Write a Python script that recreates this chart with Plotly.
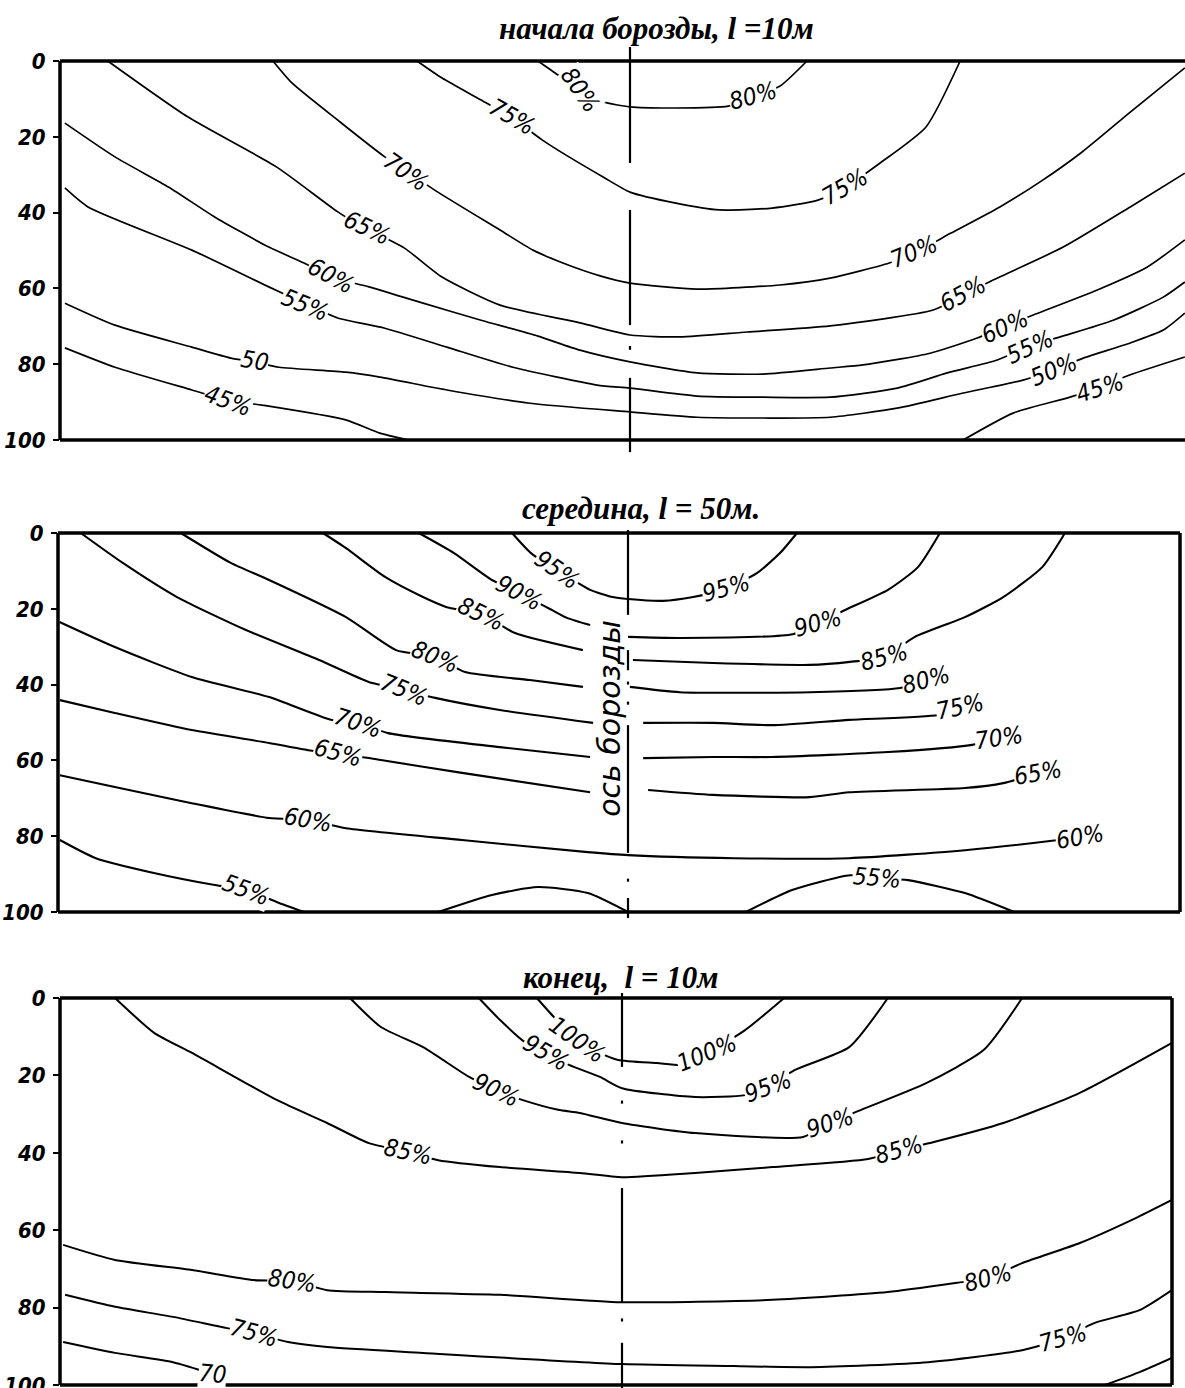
import plotly.graph_objects as go

W, H = 1185, 1388

# Depth axis (cm)
depth_ticks = [0, 20, 40, 60, 80, 100]

# ---------------------------------------------------------------
# Moisture isolines, % ; x = cm from the furrow axis, y = depth, cm
# ---------------------------------------------------------------

# --- начало борозды, l = 10 м ---
a80_x = [-24.3, -19.0, -12.9, -7.1, 0, 12.1, 25.9, 32.5, 39.6, 46.7]
a80_y = [0, 3.7, 8.2, 10.8, 12.1, 12.4, 11.9, 9.5, 6.6, 0]
a75_x = [-56.2, -49.6, -39.3, -31.1, -23.2, -16.1, -7.1, 0, 12.1, 23.5, 37.5, 49.6, 56.7, 66.0, 78.1, 87.1]
a75_y = [0, 4.5, 10.3, 15.0, 20.8, 25.3, 30.6, 34.6, 37.5, 39.3, 38.8, 36.7, 33.3, 26.9, 17.4, 0]
a70_x = [-94.2, -89.2, -76.5, -64.7, -58.6, -50.7, -34.3, -25.6, -17.7, -7.9, 0, 17.7, 39.6, 52.8,
         68.4, 75.5, 84.7, 97.6, 108.2, 119.3, 132.0, 146.4]
a70_y = [0, 5.8, 16.1, 25.3, 29.3, 34.6, 44.6, 49.9, 53.3, 56.7, 58.6, 60.2, 59.1, 57.3,
         53.3, 50.4, 45.4, 38.5, 31.9, 24.0, 13.5, 1.8]
a65_x = [-137.8, -116.6, -93.2, -77.1, -69.9, -59.6, -49.6, -34.3, -13.2, 0, 13.2, 30.9, 52.8,
         80.0, 87.9, 95.8, 114.3, 132.0, 146.4]
a65_y = [0, 14.8, 28.0, 39.8, 44.1, 49.3, 57.0, 64.4, 69.1, 72.3, 72.8, 71.5, 69.9,
         65.7, 61.8, 57.8, 49.1, 38.5, 29.6]
a60_x = [-149.1, -135.9, -121.7, -109.5, -95.3, -86.0, -78.9, -68.9, -54.6, -39.3, -24.3, -13.2, 0,
         17.7, 35.1, 52.8, 61.5, 79.2, 91.6, 98.4, 106.4, 123.3, 136.4, 146.4]
a60_y = [16.4, 25.3, 33.3, 41.2, 49.1, 53.3, 57.0, 59.6, 63.9, 68.4, 72.6, 76.3, 79.4,
         82.3, 82.6, 81.0, 80.2, 77.1, 73.1, 70.2, 67.0, 60.4, 54.4, 47.2]
a55_x = [-149.1, -143.0, -115.6, -95.3, -86.0, -77.1, -64.7, -48.3, -30.9, -8.7, 0, 17.7, 35.1,
         52.8, 70.5, 83.7, 96.9, 104.8, 113.5, 127.5, 140.7, 146.4]
a55_y = [33.5, 38.5, 49.9, 59.6, 63.9, 67.8, 70.5, 75.5, 80.8, 85.5, 86.3, 88.4, 88.7,
         88.7, 86.3, 82.3, 78.9, 75.5, 72.8, 68.4, 62.3, 58.3]
a50_x = [-149.1, -135.9, -115.6, -105.3, -99.2, -92.6, -75.0, -66.0, -48.3, -26.4, 0, 17.7, 35.1,
         52.8, 70.5, 87.9, 103.7, 111.6, 119.6, 132.0, 140.7, 146.4]
a50_y = [63.9, 69.7, 75.5, 78.4, 79.4, 80.8, 82.1, 83.4, 86.8, 90.3, 92.6, 94.0, 94.2,
         94.0, 91.6, 87.6, 84.2, 81.6, 78.4, 74.4, 71.0, 66.5]
a45_x = [-149.1, -135.9, -115.6, -106.3, -97.1, -75.0, -66.0, -58.6, None,
         87.9, 101.1, 116.1, 123.3, 132.0, 146.4]
a45_y = [75.7, 80.8, 86.8, 89.5, 90.8, 94.7, 98.2, 100, None,
         100, 92.9, 88.7, 86.3, 82.8, 78.1]

a_lab_text = ["80%", "80%", "75%", "75%", "70%", "70%", "65%", "65%",
              "60%", "60%", "55%", "55%", "50", "50%", "45%", "45%"]
a_lab_x = [-13.2, 32.5, -31.1, 56.7, -59.1, 74.9, -69.4, 87.9,
           -78.9, 98.9, -85.8, 105.6, -99.0, 111.9, -106.0, 124.0]
a_lab_y = [7.7, 9.2, 14.8, 33.2, 29.3, 50.4, 44.1, 61.5,
           56.7, 70.2, 64.4, 75.5, 79.2, 81.6, 89.7, 86.3]
a_lab_rot = [55, -15, 30, -30, 35, -22, 25, -28, 28, -24, 22, -24, 10, -22, 20, -17]

# furrow axis (dash-dot), depth intervals
a_axis_y = [-3.7, 26.9, None, 39.3, 69.7, None, 75.2, 76.2, None, 83.6, 103.2]

# --- середина, l = 50 м ---
b95_x = [-30.6, -25.6, -18.7, -10.0, -4.0, 0, 9.2, 17.2, 25.1, 34.0, 40.1, 44.6]
b95_y = [0, 5.3, 9.8, 15.0, 16.9, 17.4, 17.9, 16.9, 15.0, 10.6, 5.3, 0]
b90_x = [-55.2, -45.9, -35.9, -28.8, -20.1, -16.1, -10.0, None,
         0, 13.7, 43.5, 50.1, 57.3, 68.6, 76.5, 82.3]
b90_y = [0, 5.3, 12.4, 15.8, 20.3, 22.4, 24.3, None,
         27.4, 27.7, 26.7, 23.8, 20.3, 15.0, 9.0, 0]
b85_x = [-80.5, -74.4, -64.1, -54.1, -48.0, -38.8, -29.8, -11.9, None,
         1.3, 22.4, 48.0, 58.6, 67.6, 75.7, 88.9, 99.0, 109.3, 115.3]
b85_y = [0, 4.0, 11.6, 16.9, 19.5, 21.4, 26.4, 30.9, None,
         33.5, 34.3, 34.8, 34.0, 32.7, 27.4, 22.2, 16.9, 9.0, 0]
b80_x = [-118.0, -104.8, -94.7, -74.4, -61.2, -50.9, -43.0, -25.9, -11.9, None,
         0.5, 13.7, 48.0, 71.8, 78.6]
b80_y = [0, 7.9, 12.4, 22.2, 30.9, 32.7, 36.7, 38.8, 40.6, None,
         40.6, 42.0, 42.0, 40.9, 38.8]
b75_x = [-144.4, -133.3, -119.0, -100.8, -81.5, -68.4, -59.1, -50.9, -33.8, -9.2, None,
         4.0, 22.4, 38.0, 58.3, 81.8, 87.6]
b75_y = [0, 7.9, 16.9, 25.6, 33.5, 39.3, 41.4, 43.5, 46.7, 50.1, None,
         50.1, 50.1, 50.7, 49.3, 48.0, 45.9]
b70_x = [-150.0, -135.4, -115.1, -94.7, -78.4, -71.3, -63.3, -33.8, -10.0, None,
         4.0, 22.4, 38.0, 68.6, 90.8, 97.9]
b70_y = [23.5, 30.1, 38.0, 43.3, 49.3, 50.1, 52.8, 56.5, 59.1, None,
         59.4, 59.1, 59.1, 57.8, 55.9, 54.1]
b65_x = [-149.9, -135.4, -115.1, -94.7, -84.4, -76.5, -65.2, -43.8, -10.0, None,
         5.3, 22.4, 48.0, 58.3, 88.9, 99.0, 108.2]
b65_y = [44.1, 47.5, 52.0, 55.4, 57.3, 58.1, 59.9, 63.3, 68.4, None,
         67.8, 69.1, 69.7, 68.4, 67.3, 66.0, 63.3]
b60_x = [-149.9, -135.4, -115.1, -94.7, -84.4, -74.4, -43.8, -10.6, 0, 28.0, 58.3, 88.9, 113.5, 119.3]
b60_y = [63.9, 67.0, 71.3, 75.2, 75.7, 77.9, 81.0, 84.2, 85.0, 85.8, 85.8, 83.7, 81.0, 80.2]
b55_x = [-149.9, -140.4, -125.1, -109.0, -100.8, -92.6, -85.5, None,
         -50.1, -35.9, -23.8, -10.6, 0, None,
         31.1, 43.3, 58.6, 65.7, 73.9, 88.9, 101.9]
b55_y = [81.0, 85.8, 89.7, 92.9, 94.2, 97.4, 100, None,
         100, 95.5, 93.4, 95.0, 100, None,
         100, 94.2, 90.3, 91.0, 91.6, 95.0, 100]

b_lab_text = ["95%", "90%", "85%", "80%", "75%", "70%", "65%", "60%", "55%",
              "95%", "90%", "85%", "80%", "75%", "70%", "65%", "60%", "55%"]
b_lab_x = [-18.7, -28.8, -38.8, -50.9, -59.1, -71.3, -76.5, -84.4, -100.8,
           25.9, 50.1, 67.6, 78.6, 87.6, 97.9, 108.2, 119.3, 65.7]
b_lab_y = [9.8, 15.8, 21.4, 32.7, 41.4, 50.1, 58.1, 75.7, 94.2,
           14.5, 23.8, 32.7, 38.8, 45.9, 54.1, 63.3, 80.2, 91.0]
b_lab_rot = [35, 28, 25, 22, 22, 18, 15, 10, 20,
             -15, -15, -15, -15, -12, -8, -10, -10, 5]

b_axis_y = [-0.8, 21.6, None, 30.9, 36.2, None, 39.2, 40.0, None, 44.5, 45.3, None,
            50.7, 84.4, None, 91.2, 92.0, None, 96.3, 101.6]
b_axis_label = "ось борозды"
b_axis_label_x = -4.8
b_axis_label_y = 48.8

# --- конец, l = 10 м ---
c100_x = [-22.0, -17.6, -11.6, -5.7, -1.0, 9.0, 16.0, 22.0, 31.8, 41.9]
c100_y = [0, 4.9, 10.3, 14.2, 16.0, 16.8, 17.3, 14.2, 8.3, 0]
c95_x = [-37.0, -31.5, -25.1, -19.6, -13.7, -5.7, 0, 18.9, 31.8, 37.7, 44.7, 58.7, 68.7]
c95_y = [0, 5.7, 11.4, 14.2, 17.3, 20.4, 23.3, 25.6, 25.1, 23.0, 18.6, 12.7, 0]
c90_x = [-70.3, -62.3, -51.4, -39.5, -32.6, -25.6, -16.5, -10.9, 0, 18.9, 46.8, 53.7, 61.8,
         78.6, 93.5, 103.4]
c90_y = [0, 7.5, 12.7, 20.4, 23.8, 26.4, 28.9, 29.7, 32.3, 34.9, 35.9, 32.3, 28.9,
         22.0, 13.4, 0]
c85_x = [-131.0, -120.9, -111.1, -89.1, -76.2, -65.4, -55.3, -47.5, -31.5, -10.9, 0, 18.9, 38.8,
         63.6, 71.6, 80.6, 98.5, 118.3, 142.1]
c85_y = [0, 9.0, 14.2, 26.4, 32.3, 37.5, 39.8, 41.9, 43.7, 45.2, 46.3, 45.2, 43.7,
         41.6, 39.3, 37.2, 32.3, 24.5, 11.6]
c80_x = [-144.4, -131.0, -111.1, -95.1, -85.3, -76.2, -61.2, -31.5, 0, 38.8, 68.7, 86.6, 94.6,
         103.4, 118.3, 133.3, 142.1]
c80_y = [63.8, 67.7, 70.3, 72.9, 73.1, 75.5, 76.0, 76.7, 78.6, 78.0, 76.0, 73.6, 72.4,
         68.5, 63.3, 56.6, 52.2]
c75_x = [-143.9, -131.0, -116.0, -102.1, -95.1, -86.3, -76.2, -51.4, 0, 28.9, 48.8, 79.1, 103.4,
         114.0, 122.0, 133.9, 142.1]
c75_y = [76.7, 79.8, 82.4, 85.3, 86.6, 88.9, 90.2, 91.7, 94.6, 95.1, 95.4, 94.1, 91.0,
         87.9, 84.0, 80.6, 75.5]
c70_x = [-144.4, -131.0, -116.0, -105.7, None, 124.8, 133.9, 142.1]
c70_y = [88.9, 91.7, 94.1, 97.2, None, 100, 96.6, 93.0]

c_lab_text = ["100%", "95%", "90%", "85%", "100%", "95%", "90%", "85%",
              "80%", "80%", "75%", "75%", "70"]
c_lab_x = [-11.6, -19.6, -32.6, -55.3, 22.0, 37.7, 53.7, 71.6,
           -85.3, 94.6, -95.1, 114.0, -105.7]
c_lab_y = [10.9, 14.2, 23.8, 39.8, 14.2, 23.0, 32.3, 39.3,
           73.1, 72.4, 86.6, 87.9, 97.2]
c_lab_rot = [35, 30, 25, 12, -22, -20, -18, -15, 8, -15, 15, -15, 5]

c_axis_y = [-1.3, 17.8, None, 26.5, 27.3, None, 36.8, 37.6, None, 49.1, 78.6, None,
            82.8, 83.6, None, 89.1, 100.8]

# ---------------------------------------------------------------
# Page layout (pixels) for the three sections
# ---------------------------------------------------------------
panels = [
    dict(lines=[(a80_x, a80_y), (a75_x, a75_y), (a70_x, a70_y), (a65_x, a65_y),
                (a60_x, a60_y), (a55_x, a55_y), (a50_x, a50_y), (a45_x, a45_y)],
         labels=(a_lab_text, a_lab_x, a_lab_y, a_lab_rot), axis=a_axis_y,
         top=61, bottom=440, left=60, right=1185, axis_px=630, dom=(40, 462),
         rborder=False, lw=1.7,
         title="начала борозды, l =10м", tx=656, ty=29),
    dict(lines=[(b95_x, b95_y), (b90_x, b90_y), (b85_x, b85_y), (b80_x, b80_y),
                (b75_x, b75_y), (b70_x, b70_y), (b65_x, b65_y), (b60_x, b60_y),
                (b55_x, b55_y)],
         labels=(b_lab_text, b_lab_x, b_lab_y, b_lab_rot), axis=b_axis_y,
         top=533, bottom=912, left=58, right=1180, axis_px=628, dom=(522, 925),
         rborder=True, lw=2.1,
         title="середина, l = 50м.", tx=641, ty=509),
    dict(lines=[(c100_x, c100_y), (c95_x, c95_y), (c90_x, c90_y), (c85_x, c85_y),
                (c80_x, c80_y), (c75_x, c75_y), (c70_x, c70_y)],
         labels=(c_lab_text, c_lab_x, c_lab_y, c_lab_rot), axis=c_axis_y,
         top=998, bottom=1385, left=60, right=1172, axis_px=622, dom=(985, 1388),
         rborder=True, lw=2.0,
         title="конец,  l = 10м", tx=621, ty=977),
]

label_font = dict(family="Liberation Sans Narrow, DejaVu Sans Condensed, sans-serif",
                  size=24, color="black", style="italic")
tick_font = dict(family="DejaVu Sans Condensed, Liberation Sans Narrow, sans-serif",
                 size=22, color="black", weight="bold", style="italic")
title_font = dict(family="Liberation Serif, Times New Roman, serif", size=31, color="black")

fig = go.Figure()
layout = dict(width=W, height=H, margin=dict(l=0, r=0, t=0, b=0),
              paper_bgcolor="white", plot_bgcolor="white", showlegend=False)
shapes, annotations = [], []

for i, p in enumerate(panels, start=1):
    xa, ya = ("x", "y") if i == 1 else (f"x{i}", f"y{i}")
    sfx = "" if i == 1 else str(i)
    scale = (p["bottom"] - p["top"]) / 100.0          # px per cm
    xmin = -(p["axis_px"] - p["left"]) / scale
    xmax = (p["right"] - p["axis_px"]) / scale
    d_top, d_bot = p["dom"]
    y_hi = -(p["top"] - d_top) / scale
    y_lo = 100 + (d_bot - p["bottom"]) / scale

    layout["xaxis" + sfx] = dict(domain=[p["left"] / W, p["right"] / W], range=[xmin, xmax],
                                 visible=False, anchor=ya)
    layout["yaxis" + sfx] = dict(domain=[1 - d_bot / H, 1 - d_top / H], range=[y_lo, y_hi],
                                 anchor=xa, tickvals=depth_ticks, ticks="outside",
                                 ticklen=6, tickwidth=2, tickcolor="black",
                                 showgrid=False, zeroline=False, showline=False,
                                 tickfont=tick_font, automargin=False, ticklabelstandoff=3,
                                 ticklabeloverflow="allow")

    # isolines
    for lx, ly in p["lines"]:
        fig.add_trace(go.Scatter(x=lx, y=ly, mode="lines", xaxis=xa, yaxis=ya,
                                 line=dict(color="black", width=p["lw"], shape="spline",
                                           smoothing=0.6),
                                 connectgaps=False, hoverinfo="skip"))
    # furrow axis
    fig.add_trace(go.Scatter(x=[0 if v is not None else None for v in p["axis"]], y=p["axis"],
                             mode="lines", xaxis=xa, yaxis=ya, connectgaps=False,
                             line=dict(color="black", width=2.2), hoverinfo="skip"))

    # frame
    fx0, fx1 = p["left"] / W, p["right"] / W
    fy0, fy1 = 1 - p["top"] / H, 1 - p["bottom"] / H
    frame = [(fx0, fy0, fx1, fy0), (fx0, fy1, fx1, fy1), (fx0, fy0, fx0, fy1)]
    if p["rborder"]:
        frame.append((fx1, fy0, fx1, fy1))
    for x0, y0, x1, y1 in frame:
        shapes.append(dict(type="line", xref="paper", yref="paper", x0=x0, y0=y0, x1=x1, y1=y1,
                           line=dict(color="black", width=3.5)))

    # isoline labels
    txt, lx, ly, rot = p["labels"]
    for t, x, y, r in zip(txt, lx, ly, rot):
        annotations.append(dict(text=t, x=x, y=y, xref=xa, yref=ya, showarrow=False,
                                textangle=r, font=label_font, bgcolor="white", borderpad=0))

    # section title
    annotations.append(dict(text=f"<b><i>{p['title']}</i></b>", x=p["tx"] / W, y=1 - p["ty"] / H,
                            xref="paper", yref="paper", showarrow=False, font=title_font,
                            xanchor="center", yanchor="middle"))

annotations.append(dict(text=b_axis_label, x=b_axis_label_x, y=b_axis_label_y, xref="x2", yref="y2",
                        showarrow=False, textangle=-90,
                        font=dict(family="DejaVu Sans, sans-serif", size=30, color="black",
                                  style="italic")))

layout["shapes"] = shapes
layout["annotations"] = annotations
fig.update_layout(**layout)
fig.write_html("out.html")
